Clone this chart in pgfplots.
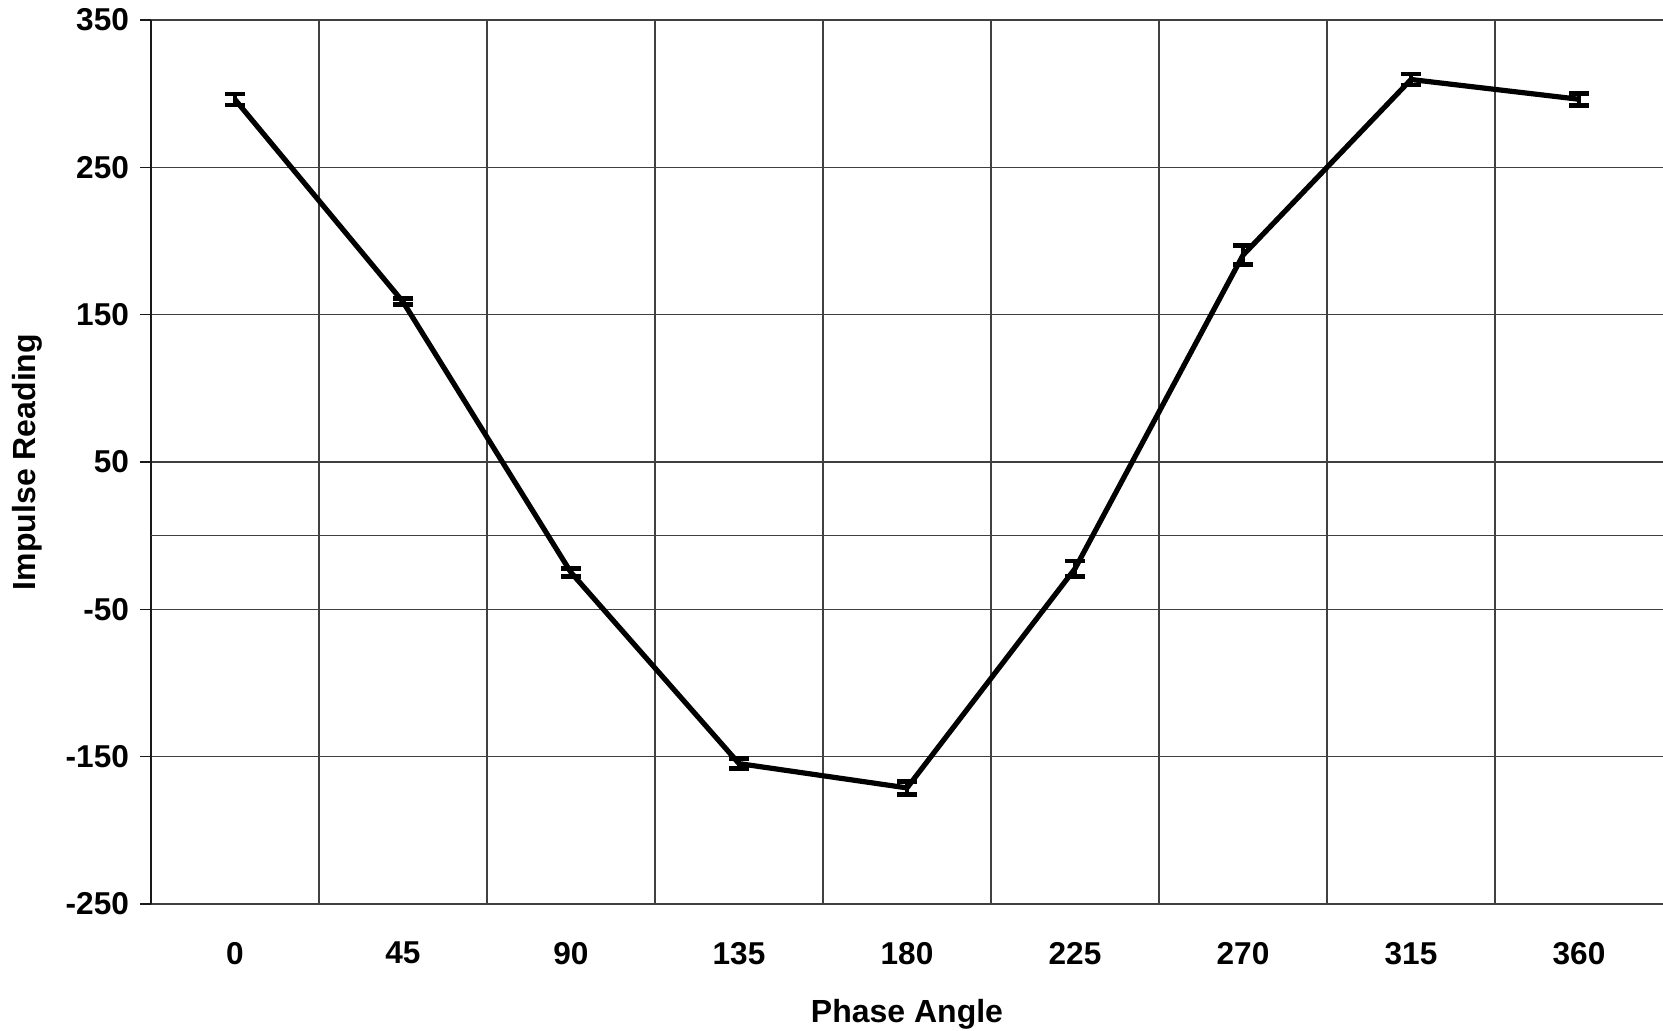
\documentclass[border=0pt]{standalone}
\usepackage{fontspec}
\setmainfont{Liberation Sans}
\usepackage{pgfplots}
\pgfplotsset{compat=1.18}
\begin{document}
\begin{tikzpicture}
\begin{axis}[
  scale only axis,
  width=756pt, height=442pt,
  xmin=-0.5, xmax=8.5,
  ymin=-250, ymax=350,
  axis lines=left,
  axis line style={-, black!90, line width=0.8pt},
  x axis line style={draw=none},
  xtick={0,1,2,3,4,5,6,7,8},
  xticklabels={0,45,90,135,180,225,270,315,360},
  minor xtick={-0.5,0.5,1.5,2.5,3.5,4.5,5.5,6.5,7.5},
  xminorgrids=true,
  minor grid style={black!75, line width=0.55pt},
  major grid style={black!75, line width=0.55pt},
  ytick={-250,-150,-50,50,150,250,350},
  ymajorgrids=true,
  extra y ticks={0},
  extra y tick labels={},
  extra y tick style={major tick length=0pt, grid=major},
  tick align=outside,
  major tick length=5.5pt,
  minor tick length=0pt,
  xtick style={draw=none},
  ytick style={black!90, line width=0.8pt},
  /pgf/number format/assume math mode=true,
  tick label style={font=\fontsize{15.8}{18}\selectfont\bfseries},
  xticklabel style={yshift=-10pt},
  yticklabel style={xshift=-2pt},
  xlabel={Phase Angle},
  ylabel={Impulse Reading},
  every axis x label/.style={at={(axis description cs:0.5,-0.1244)},anchor=center,font=\fontsize{16}{18}\selectfont\bfseries},
  every axis y label/.style={at={(axis description cs:-0.0816,0.5)},rotate=90,anchor=center,font=\fontsize{16}{18}\selectfont\bfseries},
  clip=false,
]
\addplot[black, line width=2.6pt, mark=none,
  error bars/.cd, y dir=both, y explicit,
  error bar style={line width=2.4pt, black},
  error mark options={rotate=90, mark size=4.8pt, line width=2.4pt, black}]
  table[x=x, y=y, y error=e] {
x y e
0 296 3.7
1 158.7 2
2 -25 2.6
3 -154.7 3.4
4 -171.2 4.6
5 -22.4 5.2
6 190.4 6.3
7 309.6 3.7
8 296.2 4
};
\end{axis}
\pgfresetboundingbox
\path[use as bounding box] ([shift={(-75.5pt,-63.5pt)}]current axis.south west) rectangle ([shift={(0pt,10pt)}]current axis.north east);
\end{tikzpicture}
\end{document}
